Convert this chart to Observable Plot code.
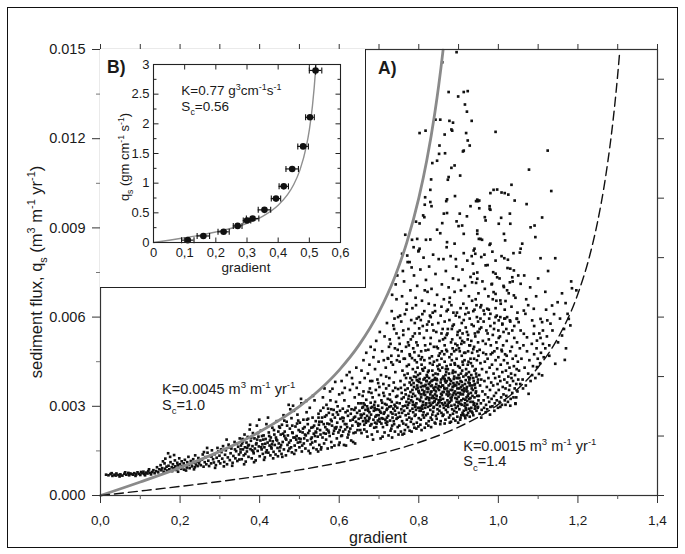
<!DOCTYPE html>
<html><head><meta charset="utf-8">
<script src="https://cdn.jsdelivr.net/npm/d3@7"></script>
<script src="https://cdn.jsdelivr.net/npm/@observablehq/plot@0.6"></script>
<style>
html,body{margin:0;padding:0;background:#fff;}
#wrap{position:relative;width:685px;height:554px;overflow:hidden;font-family:"Liberation Sans",Arial,sans-serif;}
#wrap svg{position:absolute;}
#border{position:absolute;left:7px;top:7px;width:671px;height:541px;border:1.6px solid #111;box-sizing:border-box;}
#insetBox{position:absolute;left:100px;top:49px;width:266px;height:239px;box-sizing:border-box;border-right:1.4px solid #222;border-bottom:1.4px solid #222;}
</style></head><body><div id="wrap"><div id="border"></div></div>
<script>
// ---------- MAIN PANEL (A): gradient vs sediment flux (flux in units of 0.001 m3 m-1 yr-1) ----------
const xMajorTicks = [0, 0.2, 0.4, 0.6, 0.8, 1.0, 1.2, 1.4];
const xMajorLabels = ["0,0", "0,2", "0,4", "0,6", "0,8", "1,0", "1,2", "1,4"];
const xMinorTicks = [0.1, 0.3, 0.5, 0.7, 0.9, 1.1, 1.3];
const xTopTicks = [0, 0.1, 0.2, 0.3, 0.4, 0.5, 0.6, 0.7, 0.8, 0.9, 1.0, 1.1, 1.2, 1.3, 1.4];
const yMajorTicks = [0, 3, 6, 9, 12, 15];
const yMajorLabels = ["0.000", "0.003", "0.006", "0.009", "0.012", "0.015"];
const yMinorTicks = [1.5, 4.5, 7.5, 10.5, 13.5];
const yRightTicks = [0, 2, 4, 6, 8, 10, 12, 14];

// fitted curve K=0.0045, Sc=1.0 (gray)
const grayCurveS = [0, 0.1, 0.2, 0.3, 0.4, 0.5, 0.55, 0.6, 0.65, 0.7, 0.74, 0.77, 0.8, 0.82, 0.84, 0.85, 0.86, 0.861];
const grayCurveQ = [0, 0.455, 0.938, 1.484, 2.143, 3.0, 3.548, 4.219, 5.065, 6.176, 7.361, 8.511, 10.0, 11.264, 12.84, 13.784, 14.86, 14.978];
// fitted curve K=0.0015, Sc=1.4 (dashed)
const dashCurveS = [0, 0.1, 0.2, 0.3, 0.4, 0.5, 0.6, 0.7, 0.8, 0.9, 1.0, 1.05, 1.1, 1.15, 1.2, 1.23, 1.25, 1.27, 1.29, 1.3, 1.305];
const dashCurveQ = [0, 0.151, 0.306, 0.472, 0.653, 0.86, 1.103, 1.4, 1.782, 2.301, 3.063, 3.6, 4.312, 5.303, 6.785, 8.088, 9.245, 10.757, 12.817, 14.155, 14.93];

// measured points [gradient, flux]
const bandLow = [[0.014,0.70],[0.02,0.68],[0.025,0.72],[0.028,0.75],[0.03,0.66],[0.035,0.70],[0.038,0.67],[0.04,0.74],[0.045,0.69],[0.048,0.64],[0.05,0.71],[0.055,0.67],[0.06,0.73],[0.062,0.78],[0.065,0.70],[0.07,0.76],[0.072,0.68],[0.075,0.74],[0.078,0.72],[0.082,0.70],[0.085,0.75],[0.088,0.66],[0.09,0.71],[0.093,0.78],[0.097,0.73],[0.1,0.69],[0.102,0.79],[0.104,0.75],[0.108,0.80],[0.11,0.72],[0.112,0.68],[0.115,0.77],[0.118,0.74],[0.12,0.82],[0.122,0.88],[0.124,0.76],[0.127,0.71],[0.13,0.79],[0.133,0.85],[0.136,0.75],
[0.14,0.82],[0.142,0.95],[0.145,0.78],[0.148,0.88],[0.151,1.02],[0.153,0.85],[0.155,0.92],[0.157,1.15],[0.159,0.80],[0.161,1.08],[0.162,0.90],[0.163,1.24],[0.166,0.97],[0.167,0.84],[0.17,1.42],[0.171,1.0],[0.173,0.88],[0.175,1.30],[0.176,1.12],[0.179,0.95],[0.18,0.82],[0.182,1.05],[0.184,0.92],[0.185,1.36],[0.187,1.18],[0.188,0.98],[0.19,0.86],[0.193,1.10],[0.194,1.02],[0.195,0.80],[0.197,0.93],[0.198,1.25],[0.2,1.05],[0.203,0.90],[0.204,1.15],[0.206,0.98],[0.209,1.08],[0.21,0.87],[0.212,1.20],[0.214,1.00],[0.215,0.84],[0.217,0.94],[0.218,1.12],[0.221,1.30],[0.222,1.03],[0.224,0.92],[0.227,1.16],[0.228,1.07],[0.23,0.98],[0.233,1.22],[0.234,1.10],[0.235,0.88],[0.237,0.95],[0.238,1.35],[0.24,1.04],[0.243,1.14],[0.244,0.99],[0.246,1.26],[0.248,1.08],[0.25,1.18]];

const riseMid = [[0.252,1.02],[0.255,1.21],[0.257,1.38],[0.259,0.97],[0.26,1.46],[0.262,1.12],[0.264,1.29],[0.266,1.05],[0.268,1.60],[0.269,1.44],[0.271,1.17],[0.273,0.99],[0.276,1.33],[0.278,1.08],[0.279,1.31],[0.28,1.52],[0.283,1.22],[0.285,1.11],[0.287,1.39],[0.288,0.93],[0.29,1.02],[0.292,1.27],[0.294,1.60],[0.296,1.48],[0.297,1.15],[0.299,1.34],[0.301,1.08],[0.303,1.55],[0.304,1.46],[0.306,1.24],[0.308,1.66],[0.31,0.98],[0.311,1.13],[0.313,1.37],[0.315,1.52],[0.317,1.88],[0.318,1.05],[0.32,1.28],[0.322,1.71],[0.324,1.62],[0.325,1.19],[0.327,1.42],[0.329,1.58],[0.331,1.00],[0.332,1.10],[0.334,1.33],[0.337,1.80],[0.338,1.55],[0.339,1.25],[0.341,1.49],[0.343,1.74],[0.344,1.16],[0.346,1.64],[0.348,1.38],[0.349,1.21],[0.35,1.92],
[0.352,1.45],[0.353,1.68],[0.355,1.22],[0.356,1.75],[0.357,1.90],[0.358,1.55],[0.36,1.35],[0.361,1.05],[0.362,2.05],[0.363,1.62],[0.365,1.14],[0.367,1.78],[0.368,1.48],[0.369,1.60],[0.37,1.97],[0.372,1.30],[0.373,1.70],[0.375,2.22],[0.376,2.38],[0.377,1.56],[0.378,1.84],[0.38,1.25],[0.381,1.52],[0.382,1.66],[0.383,2.10],[0.385,1.42],[0.386,1.12],[0.387,1.92],[0.388,1.58],[0.39,1.18],[0.392,1.76],[0.393,2.35],[0.394,1.88],[0.395,1.50],[0.397,1.98],[0.398,1.65],[0.399,2.55],[0.4,1.32],[0.402,1.85],[0.403,2.18],[0.405,1.55],[0.406,2.00],[0.407,1.72],[0.408,1.40],[0.41,2.02],[0.411,1.20],[0.412,1.62],[0.413,1.28],[0.414,1.74],[0.415,1.90],[0.417,2.40],[0.418,1.52],[0.42,1.78],[0.421,2.62],[0.422,1.44],[0.423,2.12],[0.425,1.68],[0.426,1.85],[0.427,1.35],[0.428,1.95],[0.429,1.62],[0.43,1.58],[0.432,2.28],[0.433,1.82],[0.434,1.25],[0.435,1.47],[0.437,2.05],[0.438,1.70],[0.44,1.38],[0.441,1.95],[0.442,1.88],[0.443,2.50],[0.445,1.60],[0.446,1.32],[0.447,2.15],[0.448,1.75],[0.449,2.32],[0.45,1.50],
[0.452,1.62],[0.453,2.05],[0.455,1.40],[0.456,2.38],[0.457,1.30],[0.458,1.80],[0.459,2.08],[0.46,2.70],[0.461,1.55],[0.462,2.52],[0.463,2.15],[0.465,1.92],[0.466,1.35],[0.467,1.88],[0.468,2.48],[0.47,1.70],[0.471,2.02],[0.472,1.50],[0.473,3.05],[0.475,1.58],[0.476,2.25],[0.477,2.90],[0.478,1.85],[0.479,1.62],[0.48,2.60],[0.481,1.45],[0.482,2.35],[0.483,2.10],[0.484,3.02],[0.485,1.95],[0.486,2.85],[0.487,1.40],[0.488,1.68],[0.49,2.32],[0.491,1.52],[0.492,1.88],[0.493,2.00],[0.495,2.72],[0.496,1.78],[0.497,2.52],[0.498,2.20],[0.499,1.92],[0.5,1.62],[0.501,2.45],[0.502,2.15],[0.503,1.90],[0.504,3.25],[0.505,3.10],[0.506,1.48],[0.507,1.68],[0.508,2.12],[0.51,2.55],[0.511,1.75],[0.512,1.92],[0.513,2.30],[0.515,1.58],[0.516,2.02],[0.517,3.18],[0.518,2.80],[0.519,2.55],[0.52,1.85],[0.521,2.40],[0.522,2.10],[0.523,1.50],[0.525,2.18],[0.526,2.95],[0.527,1.42],[0.528,1.72],[0.53,2.28],[0.531,1.95],[0.532,1.78],[0.533,2.62],[0.534,3.35],[0.535,1.60],[0.536,2.08],[0.537,2.35],[0.538,3.20],[0.539,2.00],[0.54,1.82],[0.541,2.50],[0.542,2.12],[0.543,1.55],[0.545,2.25],[0.546,1.98],[0.547,1.48],[0.548,2.75],[0.549,2.38],[0.55,1.70]];

const lowerRise = [[0.352,1.55],[0.358,1.82],[0.364,1.40],[0.371,1.68],[0.379,1.95],[0.384,1.48],[0.391,1.72],[0.396,2.10],[0.404,1.62],[0.409,1.88],[0.416,1.45],[0.424,2.00],[0.431,1.72],[0.436,2.20],[0.444,1.85],[0.451,2.28],[0.454,1.70],[0.462,2.00],[0.469,2.35],[0.474,1.78],[0.482,2.12],[0.489,1.95],[0.494,2.42],[0.502,1.80],[0.509,2.25],[0.514,2.05],[0.522,2.58],[0.529,1.90],[0.534,2.30],[0.541,2.15],[0.548,2.62],[0.553,2.05],[0.561,2.40],[0.568,2.70],[0.574,2.12],[0.581,2.50],[0.589,2.28],[0.594,2.80],[0.601,2.20],[0.608,2.62],[0.614,2.40],[0.621,2.85],[0.628,2.25],[0.634,2.55],[0.641,2.95],[0.648,2.35],[0.654,2.72],[0.661,3.10],[0.667,2.52],[0.673,2.85],[0.681,2.40],[0.688,3.05],[0.694,2.70],[0.701,2.58],[0.708,3.12],[0.714,2.80],[0.721,2.48],[0.728,3.22],[0.734,2.75],[0.741,3.00],[0.747,2.62],[0.663,2.38],[0.676,2.62],[0.691,2.88],[0.706,2.42],[0.719,3.05],[0.733,2.35],[0.746,3.35]];

const riseUpper = [[0.55,2.48],[0.552,2.20],[0.553,2.85],[0.554,1.55],[0.555,1.62],[0.556,2.48],[0.557,2.62],[0.558,1.95],[0.559,3.30],[0.56,2.95],[0.561,2.10],[0.562,1.75],[0.563,3.60],[0.564,2.65],[0.565,2.30],[0.566,2.08],[0.567,1.88],[0.568,3.05],[0.569,2.22],[0.57,2.42],[0.571,1.58],[0.572,2.92],[0.573,2.18],[0.574,2.78],[0.575,2.40],[0.576,2.00],[0.577,3.50],[0.578,3.20],[0.579,2.55],[0.58,1.80],[0.58,2.90],[0.581,1.62],[0.582,2.35],[0.583,3.59],[0.584,2.72],[0.585,2.08],[0.586,2.88],[0.587,2.18],[0.588,1.68],[0.589,2.62],[0.59,3.82],[0.591,2.25],[0.592,3.15],[0.593,2.30],[0.594,1.92],[0.595,2.45],[0.596,3.00],[0.597,2.72],[0.598,2.12],[0.599,1.70],[0.6,3.40],[0.601,1.78],[0.602,2.85],[0.603,2.58],[0.604,2.30],[0.605,2.00],[0.606,3.85],[0.607,2.02],[0.608,3.45],[0.609,2.92],[0.61,2.50],[0.61,2.15],[0.611,2.60],[0.612,1.70],[0.613,3.20],[0.614,3.62],[0.615,2.22],[0.616,2.80],[0.617,1.68],[0.618,2.40],[0.619,4.05],[0.62,2.30],[0.621,1.95],[0.622,2.68],[0.623,2.05],[0.624,3.00],[0.625,2.15],[0.626,4.15],[0.627,3.55],[0.628,2.52],[0.629,2.75],[0.63,1.85],[0.631,2.90],[0.632,3.95],[0.633,2.35],[0.634,3.75],[0.635,1.80],[0.636,2.10],[0.637,2.62],[0.638,2.88],[0.639,3.30],[0.64,1.75],[0.64,2.65],[0.641,2.12],[0.642,2.48],[0.643,4.30],[0.644,3.62],[0.645,2.78],[0.646,2.20],[0.647,2.42],[0.648,3.10],[0.649,2.58],[0.65,3.40],
[0.651,2.85],[0.652,2.40],[0.653,2.20],[0.654,3.10],[0.655,2.62],[0.656,2.10],[0.657,2.70],[0.658,2.95],[0.659,3.35],[0.66,2.50],[0.66,2.98],[0.661,3.50],[0.662,2.75],[0.663,2.22],[0.664,3.05],[0.665,2.60],[0.666,2.88],[0.667,2.45],[0.668,3.22],[0.669,2.15],[0.67,2.68],[0.67,3.00],[0.671,1.98],[0.672,2.92],[0.673,2.50],[0.674,3.48],[0.675,2.58],[0.676,2.80],[0.677,3.60],[0.678,2.35],[0.679,3.12],[0.68,2.72],[0.68,2.95],[0.681,3.45],[0.682,2.05],[0.683,2.98],[0.684,3.30],[0.685,1.88],[0.686,2.55],[0.687,2.85],[0.688,2.28],[0.689,2.95],[0.69,3.15],[0.69,2.45],[0.691,2.65],[0.692,3.55],[0.693,2.30],[0.694,2.42],[0.695,2.90],[0.696,2.15],[0.697,2.52],[0.698,3.02],[0.699,2.70],[0.7,3.38],[0.70,2.88],[0.701,3.65],[0.702,2.48],[0.703,2.82],[0.704,1.92],[0.705,2.78],[0.706,3.20],[0.707,2.60],[0.708,2.95],[0.709,1.98],[0.71,2.30],[0.71,2.58],[0.711,3.45],[0.712,2.75],[0.713,3.35],[0.714,2.12],[0.715,3.08],[0.716,2.55],[0.717,2.45],[0.718,3.60],[0.719,2.88],[0.72,2.38],[0.72,2.62],[0.721,2.92],[0.722,3.25],[0.723,2.68],[0.724,2.02],[0.725,3.70],[0.726,2.98],[0.727,3.40],[0.728,2.52],[0.729,2.18],[0.73,2.80],[0.73,3.00],[0.731,2.25],[0.732,3.15],[0.733,1.95],[0.734,2.62],[0.735,3.52],[0.736,2.92],[0.737,2.50],[0.738,2.40],[0.739,3.05],[0.74,2.15],[0.74,2.85],[0.741,3.62],[0.742,2.72],[0.743,3.32],[0.744,2.58],[0.745,3.12],[0.746,2.95],[0.747,2.30],[0.748,3.58],[0.749,2.05],[0.75,2.78],
[0.652,3.80],[0.656,4.20],[0.661,4.55],[0.664,3.95],[0.668,4.80],[0.672,4.10],[0.676,4.40],[0.678,3.85],[0.679,5.00],[0.683,3.85],[0.686,4.65],[0.689,4.90],[0.69,4.25],[0.693,5.20],[0.696,3.90],[0.698,3.78],[0.699,4.50],[0.702,5.50],[0.705,4.05],[0.708,4.85],[0.711,3.75],[0.712,4.55],[0.714,5.35],[0.717,4.30],[0.718,4.00],[0.72,5.80],[0.723,4.60],[0.725,5.00],[0.726,3.95],[0.729,5.10],[0.731,4.70],[0.732,6.20],[0.733,6.75],[0.735,4.40],[0.737,3.80],[0.738,5.60],[0.739,5.95],[0.741,4.15],[0.742,7.10],[0.744,6.60],[0.745,4.55],[0.746,7.40],[0.747,4.90],[0.748,6.00],[0.75,5.30]];

const coreLeft = [[0.751,2.35],[0.752,3.10],[0.753,2.65],[0.754,3.85],[0.755,2.15],[0.755,3.62],[0.756,2.90],[0.757,3.45],[0.757,3.25],[0.758,2.50],[0.758,2.78],[0.759,4.20],[0.759,2.05],[0.76,3.00],[0.752,4.50],
[0.761,2.42],[0.762,3.30],[0.762,4.60],[0.763,2.85],[0.763,2.08],[0.764,4.05],[0.764,3.72],[0.765,2.20],[0.766,3.55],[0.766,3.02],[0.767,2.70],[0.767,3.40],[0.768,3.95],[0.768,2.38],[0.769,3.15],[0.77,2.55],[0.77,4.35],
[0.771,2.95],[0.772,3.60],[0.772,4.10],[0.773,2.30],[0.773,3.05],[0.774,3.25],[0.774,2.75],[0.775,4.40],[0.775,3.35],[0.776,2.62],[0.776,3.12],[0.777,3.80],[0.777,2.18],[0.778,2.85],[0.778,4.70],[0.779,3.48],[0.779,3.95],[0.78,2.48],
[0.781,3.20],[0.781,3.72],[0.782,2.58],[0.782,2.15],[0.783,3.88],[0.783,4.62],[0.784,2.92],[0.784,3.55],[0.785,4.25],[0.785,3.15],[0.786,3.42],[0.786,2.80],[0.787,2.40],[0.788,3.65],[0.788,4.00],[0.789,3.05],[0.789,2.28],[0.79,4.55],[0.79,2.68],
[0.791,3.35],[0.791,3.02],[0.792,2.72],[0.792,4.15],[0.793,3.98],[0.793,2.88],[0.794,3.10],[0.794,2.25],[0.795,2.45],[0.795,4.48],[0.796,3.70],[0.796,3.25],[0.797,4.30],[0.797,3.62],[0.798,2.95],[0.798,3.85],[0.799,3.50],[0.799,2.32],[0.8,2.60],[0.8,4.70],
[0.801,3.45],[0.801,3.82],[0.802,2.85],[0.802,3.92],[0.803,4.10],[0.803,2.95],[0.804,3.18],[0.804,2.38],[0.805,2.55],[0.805,3.40],[0.806,3.78],[0.806,3.30],[0.807,4.40],[0.807,2.20],[0.808,3.00],[0.808,4.65],[0.809,3.55],[0.809,4.25],[0.81,2.70],[0.81,3.68],
[0.811,3.15],[0.811,4.20],[0.812,3.90],[0.812,2.80],[0.813,2.62],[0.813,3.45],[0.814,3.50],[0.814,4.55],[0.815,4.30],[0.815,2.28],[0.816,2.95],[0.816,3.38],[0.817,3.72],[0.817,3.05],[0.818,3.25],[0.818,2.70],[0.819,2.42],[0.819,3.85],[0.82,4.05],[0.82,3.60],
[0.821,3.30],[0.821,4.00],[0.822,2.75],[0.822,3.48],[0.823,4.15],[0.823,2.98],[0.824,3.58],[0.824,2.35],[0.825,2.50],[0.825,3.75],[0.826,3.95],[0.826,3.22],[0.827,3.12],[0.827,4.62],[0.828,4.45],[0.828,3.80],[0.829,2.88],[0.829,3.40],[0.83,3.68],[0.83,2.62],
[0.831,3.05],[0.831,2.30],[0.832,3.85],[0.832,3.50],[0.833,2.55],[0.833,3.70],[0.834,4.20],[0.834,2.72],[0.835,3.35],[0.835,4.40],[0.836,2.82],[0.836,4.05],[0.837,3.62],[0.837,2.95],[0.838,4.50],[0.838,3.28],[0.839,3.15],[0.839,3.55],[0.84,2.45],[0.84,3.90],
[0.841,3.40],[0.841,3.95],[0.842,4.10],[0.842,2.42],[0.843,2.68],[0.843,3.50],[0.844,3.75],[0.844,3.25],[0.845,3.05],[0.845,2.58],[0.846,4.55],[0.846,3.88],[0.847,2.90],[0.847,4.35],[0.848,3.60],[0.848,2.75],[0.849,4.25],[0.849,3.10],[0.85,3.20],[0.85,4.70],
[0.752,5.10],[0.756,5.85],[0.758,6.70],[0.76,7.55],[0.761,5.40],[0.763,7.20],[0.765,6.10],[0.768,5.00],[0.77,6.45],[0.772,7.85],[0.774,5.60],[0.775,5.05],[0.777,7.85],[0.779,6.90],[0.78,5.25],[0.782,7.67],[0.784,6.30],[0.786,4.95],[0.788,7.40],[0.79,5.80],[0.792,6.65],[0.794,5.15],[0.795,5.95],[0.796,7.05],[0.799,8.21],[0.8,6.00],[0.802,5.45],[0.804,7.60],[0.805,5.90],[0.806,4.85],[0.808,6.55],[0.81,5.70],[0.812,8.00],[0.814,6.20],[0.815,6.90],[0.816,5.05],[0.818,7.25],[0.82,5.55],[0.822,6.85],[0.824,4.90],[0.825,5.85],[0.826,7.70],[0.828,6.05],[0.83,5.30],[0.832,6.95],[0.834,5.75],[0.835,6.15],[0.836,8.10],[0.838,5.00],[0.84,6.40],[0.842,7.45],[0.844,5.50],[0.846,6.75],[0.848,4.95],[0.85,7.95]];

const coreRight = [[0.851,3.55],[0.852,2.85],[0.852,4.40],[0.853,4.20],[0.853,3.00],[0.854,3.30],[0.854,2.40],[0.855,2.50],[0.855,3.65],[0.856,3.90],[0.856,3.42],[0.857,4.60],[0.857,2.78],[0.858,3.10],[0.858,4.85],[0.859,3.70],[0.859,4.30],[0.86,2.68],[0.86,3.95],
[0.861,3.25],[0.861,3.70],[0.862,4.00],[0.862,2.72],[0.863,2.95],[0.863,3.48],[0.864,3.62],[0.864,4.75],[0.865,4.50],[0.865,2.42],[0.866,3.12],[0.866,3.85],[0.867,2.55],[0.867,4.05],[0.868,3.80],[0.868,2.88],[0.869,4.15],[0.869,3.02],[0.87,3.40],[0.87,4.35],
[0.871,3.60],[0.871,4.85],[0.872,2.80],[0.872,3.50],[0.873,4.25],[0.873,3.05],[0.874,3.35],[0.874,2.98],[0.875,3.95],[0.875,3.70],[0.876,2.62],[0.876,4.10],[0.877,4.65],[0.877,3.40],[0.878,3.15],[0.878,2.45],[0.879,3.75],[0.879,2.70],[0.88,4.40],[0.88,3.28],
[0.881,3.85],[0.881,2.48],[0.882,3.20],[0.882,4.75],[0.883,4.55],[0.883,3.30],[0.884,2.90],[0.884,3.55],[0.885,3.65],[0.885,4.95],[0.886,4.20],[0.886,2.75],[0.887,2.58],[0.887,3.78],[0.888,3.45],[0.888,3.92],[0.889,4.00],[0.889,2.85],[0.89,3.05],[0.89,4.45],
[0.891,3.50],[0.891,4.40],[0.892,4.15],[0.892,2.52],[0.893,2.95],[0.893,3.40],[0.894,3.70],[0.894,4.90],[0.895,4.60],[0.895,2.80],[0.896,3.25],[0.896,3.80],[0.897,2.65],[0.897,3.60],[0.898,3.95],[0.898,3.00],[0.899,4.35],[0.899,2.45],[0.9,3.10],[0.9,4.05],
[0.901,3.75],[0.901,3.15],[0.902,2.90],[0.902,3.95],[0.903,4.30],[0.903,4.85],[0.904,3.45],[0.904,2.55],[0.905,2.62],[0.905,3.85],[0.906,4.10],[0.906,3.65],[0.907,3.20],[0.907,2.70],[0.908,4.70],[0.908,3.05],[0.909,3.55],[0.909,4.20],[0.91,2.78],[0.91,4.50],
[0.911,3.40],[0.911,4.40],[0.912,4.00],[0.912,2.72],[0.913,2.85],[0.913,3.50],[0.914,3.60],[0.914,4.80],[0.915,4.55],[0.915,2.68],[0.916,3.10],[0.916,3.75],[0.917,2.60],[0.917,3.22],[0.918,3.88],[0.918,2.95],[0.919,4.25],[0.919,2.88],[0.92,3.30],[0.92,4.10],
[0.921,3.65],[0.921,2.70],[0.922,3.05],[0.922,3.50],[0.923,4.40],[0.923,3.35],[0.924,2.78],[0.924,4.85],[0.925,3.80],[0.925,4.50],[0.926,4.15],[0.926,2.92],[0.927,3.25],[0.927,3.90],[0.928,2.65],[0.928,3.70],[0.929,3.95],[0.929,2.85],[0.93,4.60],[0.93,3.15],
[0.931,3.45],[0.931,4.45],[0.932,4.05],[0.932,2.95],[0.933,2.82],[0.933,3.60],[0.934,3.70],[0.934,4.80],[0.935,4.35],[0.935,2.78],[0.936,3.15],[0.936,3.55],[0.937,2.70],[0.937,3.95],[0.938,3.85],[0.938,3.05],[0.939,4.60],[0.939,3.10],[0.94,3.30],[0.94,4.20],
[0.941,3.75],[0.941,2.92],[0.942,3.00],[0.942,3.62],[0.943,4.25],[0.943,3.45],[0.944,3.50],[0.944,4.10],[0.945,2.85],[0.945,4.00],[0.946,4.55],[0.946,3.08],[0.947,3.35],[0.947,4.85],[0.948,2.95],[0.948,3.80],[0.949,3.90],[0.949,2.98],[0.95,4.70],[0.95,3.20],
[0.852,5.20],[0.855,6.05],[0.857,5.45],[0.858,7.10],[0.86,5.60],[0.862,7.95],[0.863,6.60],[0.865,5.05],[0.866,5.30],[0.868,7.55],[0.87,6.20],[0.872,5.45],[0.873,6.25],[0.875,7.00],[0.877,5.90],[0.878,6.65],[0.88,8.05],[0.882,6.40],[0.883,5.60],[0.884,5.25],[0.886,7.30],[0.887,6.15],[0.888,5.75],[0.89,6.85],[0.892,5.10],[0.893,7.95],[0.894,7.70],[0.896,6.15],[0.897,5.05],[0.898,5.50],[0.9,7.25],[0.902,6.00],[0.903,5.55],[0.904,5.30],[0.906,6.90],[0.907,5.10],[0.908,5.80],[0.91,7.60],[0.912,6.45],[0.913,8.15],[0.914,5.15],[0.916,7.05],[0.917,6.10],[0.918,5.65],[0.92,6.30],[0.922,7.90],[0.923,5.25],[0.924,5.40],[0.926,6.70],[0.927,5.05],[0.928,5.95],[0.93,7.35],[0.932,5.20],[0.933,8.05],[0.934,6.55],[0.936,7.80],[0.937,6.20],[0.938,5.70],[0.939,5.00],[0.94,6.25],[0.942,5.35],[0.943,6.60],[0.944,7.15],[0.946,6.00],[0.947,7.50],[0.948,5.50],[0.949,5.85],[0.95,6.80]];

const coreExtra = [[0.783,3.32],[0.787,3.78],[0.791,2.98],[0.794,3.58],[0.798,4.05],[0.802,3.22],[0.805,3.65],[0.809,2.92],[0.812,3.40],[0.815,3.95],[0.819,3.10],[0.822,3.62],[0.825,4.20],[0.828,3.02],[0.832,3.28],[0.835,3.88],[0.838,2.98],[0.842,3.65],[0.845,3.35],[0.848,4.08],[0.852,3.15],[0.855,3.80],[0.858,3.38],[0.862,3.05],[0.865,3.58],[0.868,4.25],[0.872,3.20],[0.875,3.48],[0.878,3.90],[0.882,3.02],[0.885,3.38],[0.888,3.68],[0.892,3.28],[0.895,3.95],[0.898,3.45],[0.902,3.60],[0.905,3.08],[0.908,3.82],[0.912,3.25],[0.915,3.52],[0.918,4.05],[0.922,3.18],[0.925,3.42],[0.928,3.78],[0.785,3.05],[0.795,3.88],[0.805,2.85],[0.815,3.68],[0.825,3.28],[0.835,3.12],[0.845,3.92],[0.855,3.22],[0.865,3.92],[0.875,3.12],[0.885,4.12],[0.895,3.15],[0.905,3.40],[0.915,3.02],[0.925,3.98],[0.935,3.35],[0.80,3.52],[0.81,3.05],[0.82,3.85],[0.83,3.48],[0.84,3.18],[0.85,3.68],[0.86,3.48],[0.87,3.85],[0.88,3.55],[0.89,3.72],[0.90,3.32],[0.91,3.70],[0.92,3.58],[0.93,3.28],[0.94,3.72]];

const midBelt = [[0.722,4.62],[0.727,5.25],[0.731,4.48],[0.736,5.72],[0.74,4.95],[0.744,5.45],[0.749,4.70],[0.753,6.05],[0.757,4.85],[0.761,5.55],[0.765,4.60],[0.769,6.25],[0.773,5.15],[0.777,4.75],[0.781,5.90],[0.785,5.35],[0.789,4.82],[0.793,6.40],[0.797,5.05],[0.801,5.62],[0.805,4.58],[0.809,6.10],[0.813,5.30],[0.817,4.88],[0.821,5.75],[0.825,6.45],[0.829,5.10],[0.833,4.68],[0.837,5.55],[0.841,6.20],[0.845,5.00],[0.849,5.80],[0.853,4.78],[0.857,6.35],[0.861,5.25],[0.865,5.85],[0.869,4.90],[0.873,5.60],[0.877,6.50],[0.881,5.15],[0.885,5.70],[0.889,4.85],[0.893,6.05],[0.897,5.40],[0.901,4.95],[0.905,6.30],[0.909,5.20],[0.913,5.90],[0.917,4.80],[0.921,5.50],[0.925,6.15],[0.929,5.05],[0.933,5.75],[0.937,4.92],[0.941,5.45],[0.945,6.40],[0.949,5.15],[0.953,4.90],[0.957,5.65],[0.961,5.20],[0.965,6.10],[0.969,4.75],[0.973,5.45],[0.977,5.95],[0.981,5.05],[0.985,4.80],[0.989,5.60],[0.993,6.30],[0.997,4.95],[1.001,5.30],[1.005,6.00],[1.009,4.85],[1.013,5.50],[1.017,5.95],[1.021,4.70],[0.79,5.45],[0.83,6.00],[0.87,5.40],[0.91,5.45],[0.95,5.50]];

const shoulder = [[0.951,3.35],[0.952,4.05],[0.953,2.75],[0.954,3.70],[0.955,4.45],[0.956,3.10],[0.957,3.90],[0.957,2.62],[0.958,2.88],[0.959,4.25],[0.96,3.50],[0.962,4.80],[0.963,3.20],[0.964,2.95],[0.965,3.85],[0.966,4.50],[0.967,3.40],[0.968,5.10],[0.968,2.80],[0.969,3.05],[0.97,4.15],[0.971,3.65],[0.972,2.90],[0.973,4.60],[0.974,3.30],[0.975,3.95],[0.976,5.25],[0.977,3.15],[0.978,4.30],[0.979,3.55],[0.979,2.72],[0.98,2.98],[0.981,4.75],[0.982,3.80],[0.983,3.25],[0.984,4.40],[0.985,3.00],[0.986,5.40],[0.987,3.70],[0.988,4.10],[0.989,3.35],[0.99,4.85],[0.99,2.85],[0.991,3.10],[0.992,3.95],[0.993,4.55],[0.994,3.45],[0.995,5.15],[0.996,3.20],[0.997,4.25],[0.998,3.75],[0.999,2.95],[1.0,4.65],[1.001,3.55],[1.002,4.00],[1.003,3.15],[1.004,5.35],[1.005,3.85],[1.005,2.98],[1.006,4.40],[1.007,3.30],[1.008,4.90],[1.009,3.05],[1.01,4.15],[1.011,3.65],[1.012,5.05],[1.013,3.40],[1.014,4.55],[1.015,3.90],[1.016,3.20],[1.017,4.75],[1.018,3.60],[1.018,3.05],[1.019,4.20],[1.02,3.35],[1.021,5.20],[1.022,3.80],[1.023,4.45],[1.024,3.15],[1.025,4.00],[1.026,5.45],[1.027,3.55],[1.028,4.30],[1.029,3.70],[1.03,4.85],[1.03,3.02],[1.031,3.25],[1.032,4.10],[1.033,3.95],[1.034,5.00],[1.035,3.45],[1.036,4.60],[1.037,3.85],[1.038,3.30],[1.039,4.35],[1.04,5.30],[1.041,3.60],[1.042,4.05],[1.043,3.10],[1.043,3.08],[1.044,4.70],[1.045,3.75],[1.045,3.30],[1.046,4.25],[1.047,5.15],[1.048,3.50],[1.049,4.50],[1.05,3.90],
[0.953,5.60],[0.955,5.95],[0.957,6.40],[0.96,7.20],[0.963,5.85],[0.965,8.10],[0.966,6.95],[0.97,5.55],[0.973,7.75],[0.975,6.70],[0.976,6.25],[0.98,5.70],[0.983,7.10],[0.985,8.20],[0.986,6.60],[0.99,5.80],[0.993,7.90],[0.995,6.55],[0.996,6.05],[1.0,5.55],[1.003,7.30],[1.006,6.45],[1.008,8.05],[1.01,5.75],[1.013,7.05],[1.015,5.95],[1.016,6.25],[1.02,5.60],[1.023,7.65],[1.026,6.80],[1.03,5.85],[1.033,6.35],[1.035,5.55],[1.036,7.20],[1.038,8.15],[1.04,5.70],[1.043,6.65],[1.046,5.95],[1.048,6.15],[1.05,7.40]];

const tail = [[1.051,5.83],[1.052,4.20],[1.054,4.95],[1.054,8.17],[1.055,3.75],[1.056,8.30],[1.056,7.12],[1.056,5.55],[1.058,4.60],[1.06,8.47],[1.061,3.90],[1.062,3.60],[1.063,5.05],[1.064,6.22],[1.064,5.44],[1.065,7.40],[1.066,4.30],[1.068,6.11],[1.069,3.70],[1.07,6.60],[1.071,9.80],[1.072,5.32],[1.072,4.85],[1.075,4.10],[1.075,6.40],[1.076,3.42],[1.077,10.96],[1.078,4.55],[1.08,7.00],[1.081,9.02],[1.081,3.85],[1.084,5.10],[1.085,5.89],[1.085,4.05],[1.087,4.35],[1.089,6.28],[1.089,5.44],[1.09,4.75],[1.09,5.70],[1.091,9.08],[1.093,8.69],[1.093,3.95],[1.095,6.70],[1.096,4.95],[1.097,5.21],[1.097,4.32],[1.099,4.60],[1.1,7.30],[1.102,4.09],[1.103,5.45],[1.105,4.45],[1.106,7.98],[1.106,5.94],[1.106,5.30],[1.107,4.80],[1.11,5.83],[1.11,4.04],[1.11,9.35],[1.112,5.55],[1.112,5.10],[1.114,4.65],[1.118,4.95],[1.118,6.85],[1.12,6.25],[1.122,5.35],[1.123,5.89],[1.124,11.60],[1.125,7.55],[1.128,5.05],[1.128,4.70],[1.131,5.78],[1.133,10.24],[1.135,6.39],[1.136,5.55],[1.14,6.10],[1.143,7.98],[1.143,4.43],[1.149,6.50],[1.15,5.15],[1.155,5.95],[1.16,5.38],[1.16,6.80],[1.165,5.60],[1.167,4.56],[1.169,6.47],[1.17,4.95],[1.174,6.11],[1.177,5.94],[1.181,5.72],[1.183,7.20],[1.185,6.97],[1.196,6.90]];

const sparseTop = [[0.895,14.91],[0.859,14.57],[0.875,13.57],[0.899,13.42],[0.913,13.57],[0.923,13.60],[0.916,13.15],[0.921,12.91],[0.933,12.60],[0.842,12.64],[0.854,12.64],[0.877,12.60],[0.886,12.54],[0.882,12.31],[0.884,12.27],[0.817,12.27],[0.802,12.19],[0.865,12.14],[0.919,12.19],[0.993,12.23],[0.923,11.94],[0.928,11.77],[0.913,11.60],[0.911,11.57],[0.852,11.77],[0.851,11.49],[0.866,11.51],[0.846,11.26],[0.834,11.18],[0.890,11.10],[0.882,11.02],[0.875,10.71],[0.873,10.62],[0.904,10.76],[0.831,10.63],[0.829,10.28],[0.891,10.07],[0.871,9.96],[0.869,9.90],[0.816,10.03],[0.815,9.78],[0.829,9.87],[0.832,9.73],[0.811,9.42],[0.814,9.36],[0.802,9.15],[0.793,9.21],[0.863,9.48],[0.871,9.50],[0.846,8.94],[0.854,8.82],[0.859,9.16],[0.903,9.48],[0.921,9.39],[0.944,9.90],[0.949,9.90],[0.930,9.73],[0.952,9.66],[0.978,9.73],[0.980,9.61],[0.988,10.28],[0.997,10.29],[0.980,10.17],[0.895,9.22],[0.909,9.08],[0.900,9.06],[0.913,8.80],[0.947,8.91],[0.947,8.80],[0.955,8.63],[0.959,8.60],[0.980,8.47],[1.001,9.14],[0.766,8.77],[0.783,8.60],[0.796,8.63],[0.818,8.60],[0.829,8.61],[0.802,8.30],[0.871,8.52],[0.870,8.35],[0.890,8.47],[0.940,8.30],[0.978,8.43],[0.758,8.13],[0.771,8.07],[0.787,8.35],[0.800,8.24],
[1.016,10.17],[1.041,9.92],[0.978,9.64],[1.029,9.48],[1.030,9.14],[1.007,9.34],[0.966,9.36],[0.968,9.25],[0.951,8.63],[1.014,8.80],[1.017,8.58],[0.938,8.24],[0.942,8.13],[0.957,8.02],[0.968,7.74],[1.015,7.98],[1.024,7.93],[0.987,7.51],[0.993,7.46],[0.997,7.34],[1.030,7.63],[1.039,7.57],[1.035,7.34],[1.029,7.17],[0.938,7.46],[0.947,7.29],[0.934,7.17],[0.984,7.12],[0.988,6.84],[0.993,6.78],[1.014,7.01],[1.022,6.90],[1.039,6.73],[1.005,6.56],[1.018,6.54],[0.955,6.33],[0.963,6.22],[0.972,6.28],[0.980,6.11],[0.993,6.00],[1.001,5.89],[1.010,5.78],[1.022,6.00],[1.029,5.89],[1.047,5.94],[1.033,10.45],[0.947,9.95],[0.952,9.92],[1.025,10.12],[1.008,10.19]];

// ---------- INSET PANEL (B) ----------
const insetXTicks = [0, 0.1, 0.2, 0.3, 0.4, 0.5, 0.6];
const insetXLabels = ["0", "0,1", "0,2", "0,3", "0,4", "0,5", "0,6"];
const insetYTicks = [0, 0.5, 1, 1.5, 2, 2.5, 3];
const insetYLabels = ["0", "0.5", "1", "1.5", "2", "2.5", "3"];
const insetYMinor = [0.25, 0.75, 1.25, 1.75, 2.25, 2.75];
const insetGradient = [0.11, 0.16, 0.225, 0.27, 0.30, 0.318, 0.356, 0.393, 0.418, 0.445, 0.48, 0.502, 0.52];
const insetFlux = [0.04, 0.11, 0.18, 0.28, 0.37, 0.405, 0.55, 0.74, 0.946, 1.24, 1.62, 2.11, 2.90];
const insetErrX = [0.02, 0.02, 0.018, 0.014, 0.012, 0.02, 0.02, 0.015, 0.015, 0.02, 0.017, 0.014, 0.02];
const insetErrY = [0, 0, 0, 0, 0, 0, 0, 0, 0, 0, 0, 0, 0.08];
const insetCurveS = [0, 0.05, 0.1, 0.15, 0.2, 0.25, 0.3, 0.35, 0.4, 0.43, 0.45, 0.47, 0.49, 0.5, 0.51, 0.52, 0.521];
const insetCurveQ = [0, 0.039, 0.080, 0.124, 0.177, 0.240, 0.324, 0.442, 0.629, 0.807, 0.978, 1.224, 1.610, 1.899, 2.302, 2.906, 2.984];

// ---------- rendering ----------
const FONT = '"Liberation Sans", Arial, Helvetica, sans-serif';
const INK = "#1a1a1a";
const points = [...bandLow, ...riseMid, ...lowerRise, ...riseUpper, ...coreLeft, ...coreRight, ...coreExtra, ...midBelt, ...shoulder, ...tail, ...sparseTop]
  .map(([s, q]) => ({s, q}));
const grayCurve = grayCurveS.map((s, i) => ({s, q: grayCurveQ[i]}));
const dashCurve = dashCurveS.map((s, i) => ({s, q: dashCurveQ[i]}));
const xLab = new Map(xMajorTicks.map((t, i) => [t, xMajorLabels[i]]));
const yLab = new Map(yMajorTicks.map((t, i) => [t, yMajorLabels[i]]));
const blank = () => "";

const main = Plot.plot({
  width: 685, height: 554,
  marginLeft: 100, marginRight: 28, marginTop: 49, marginBottom: 59,
  x: {domain: [0, 1.4]},
  y: {domain: [0, 15]},
  style: {fontFamily: FONT, color: INK, background: "transparent", overflow: "visible"},
  marks: [
    Plot.dot(points, {x: "s", y: "q", r: 1.5, symbol: "square", fill: "#111", stroke: null}),
    Plot.line(grayCurve, {x: "s", y: "q", stroke: "#8a8a8a", strokeWidth: 2.8, curve: "monotone-x"}),
    Plot.line(dashCurve, {x: "s", y: "q", stroke: "#111", strokeWidth: 1.4, strokeDasharray: "9,5", curve: "monotone-x"}),
    Plot.frame({stroke: "#333", strokeWidth: 1.2}),
    Plot.axisY({ticks: yMajorTicks, tickSize: 8, tickPadding: 7, tickFormat: d => yLab.get(d), label: null, fontSize: 14.5, stroke: "#333"}),
    Plot.axisY({ticks: yMinorTicks, tickSize: 4, tickFormat: blank, label: null, stroke: "#777"}),
    Plot.axisY({anchor: "right", ticks: yRightTicks, tickSize: 6, tickFormat: blank, label: null, stroke: "#333"}),
    Plot.axisX({ticks: xMajorTicks, tickSize: 8, tickPadding: 12, tickFormat: d => xLab.get(d), label: null, fontSize: 13.5, stroke: "#333"}),
    Plot.axisX({ticks: xMinorTicks, tickSize: 4, tickFormat: blank, label: null, stroke: "#555"}),
    Plot.axisX({anchor: "top", ticks: xTopTicks, tickSize: 6, tickFormat: blank, label: null, stroke: "#333"})
  ]
});
main.style.left = "0px"; main.style.top = "0px";
document.getElementById("wrap").appendChild(main);

// inset
const tick = (dx, dy) => ({draw(c) { c.moveTo(0, 0); c.lineTo(dx, dy); }});
const vcap = {draw(c) { c.moveTo(0, -3); c.lineTo(0, 3); }};
const insetRows = insetGradient.map((g, i) => ({g, q: insetFlux[i], ex: insetErrX[i], ey: insetErrY[i]}));
const insetCurve = insetCurveS.map((s, i) => ({s, q: insetCurveQ[i]}));
const ixLab = new Map(insetXTicks.map((t, i) => [t, insetXLabels[i]]));
const iyLab = new Map(insetYTicks.map((t, i) => [t, insetYLabels[i]]));
const TS = {stroke: "#222", fill: "none", strokeWidth: 1};

const inset = Plot.plot({
  width: 266, height: 239,
  marginLeft: 53, marginRight: 26, marginTop: 15, marginBottom: 46,
  x: {domain: [0, 0.6]},
  y: {domain: [0, 3]},
  style: {fontFamily: FONT, color: INK, background: "#fff", overflow: "visible"},
  marks: [
    Plot.line(insetCurve, {x: "s", y: "q", stroke: "#8f8f8f", strokeWidth: 1.4, curve: "monotone-x"}),
    Plot.ruleY(insetRows, {y: "q", x1: d => d.g - d.ex, x2: d => d.g + d.ex, stroke: "#111", strokeWidth: 1.2}),
    Plot.dot(insetRows, {x: d => d.g - d.ex, y: "q", symbol: vcap, stroke: "#111", fill: "none", strokeWidth: 1.1}),
    Plot.dot(insetRows, {x: d => d.g + d.ex, y: "q", symbol: vcap, stroke: "#111", fill: "none", strokeWidth: 1.1}),
    Plot.ruleX(insetRows.filter(d => d.ey > 0), {x: "g", y1: d => d.q - d.ey, y2: d => d.q + d.ey, stroke: "#111", strokeWidth: 1.2}),
    Plot.dot(insetRows, {x: "g", y: "q", r: 3.3, fill: "#111", stroke: null}),
    Plot.frame({stroke: "#222", strokeWidth: 1.1}),
    Plot.dot(insetYTicks, {y: d => d, frameAnchor: "left", symbol: tick(5, 0), ...TS}),
    Plot.dot(insetYMinor, {y: d => d, frameAnchor: "left", symbol: tick(3, 0), ...TS}),
    Plot.dot(insetYTicks, {y: d => d, frameAnchor: "right", symbol: tick(-5, 0), ...TS}),
    Plot.dot(insetYMinor, {y: d => d, frameAnchor: "right", symbol: tick(-3, 0), ...TS}),
    Plot.dot(insetXTicks, {x: d => d, frameAnchor: "bottom", symbol: tick(0, -5), ...TS}),
    Plot.dot(insetXTicks, {x: d => d, frameAnchor: "top", symbol: tick(0, 5), ...TS}),
    Plot.axisX({ticks: insetXTicks, tickSize: 0, tickPadding: 5, tickFormat: d => ixLab.get(d), label: null, fontSize: 13}),
    Plot.axisY({ticks: insetYTicks, tickSize: 0, tickPadding: 4, tickFormat: d => iyLab.get(d), label: null, fontSize: 13})
  ]
});
inset.style.left = "100px"; inset.style.top = "49px";
document.getElementById("wrap").appendChild(inset);
const box = document.createElement("div"); box.id = "insetBox";
document.getElementById("wrap").appendChild(box);

// rich text helper (super/subscripts)
function rich(svg, x, y, parts, fs, opts = {}) {
  const t = d3.select(svg).append("text")
    .attr("x", x).attr("y", y)
    .attr("font-family", FONT).attr("font-size", fs)
    .attr("fill", opts.fill || INK)
    .attr("text-anchor", opts.anchor || "start");
  if (opts.transform) t.attr("transform", opts.transform);
  if (opts.weight) t.attr("font-weight", opts.weight);
  let shift = 0;
  for (const [str, kind] of parts) {
    const target = kind === "sup" ? -0.42 * fs : kind === "sub" ? 0.3 * fs : 0;
    const sp = t.append("tspan").text(str).attr("dy", target - shift);
    if (kind) sp.attr("font-size", fs * 0.66);
    shift = target;
  }
  return t;
}

const X = main.scale("x"), Y = main.scale("y");
// axis titles
rich(main, 378, 543, [["gradient"]], 16, {anchor: "middle"});
rich(main, 0, 0, [["sediment flux, q"], ["s", "sub"], [" (m"], ["3", "sup"], [" m"], ["-1", "sup"], [" yr"], ["-1", "sup"], [")"]], 16.5,
  {anchor: "middle", transform: "translate(42,272) rotate(-90)"});
// panel label & annotations
rich(main, 378, 74, [["A)"]], 17.5, {weight: "bold"});
rich(main, X.apply(0.156), Y.apply(3.40), [["K=0.0045 m"], ["3", "sup"], [" m"], ["-1", "sup"], [" yr"], ["-1", "sup"]], 14.5);
rich(main, X.apply(0.156), Y.apply(2.86), [["S"], ["c", "sub"], ["=1.0"]], 14.5);
rich(main, X.apply(0.913), Y.apply(1.49), [["K=0.0015 m"], ["3", "sup"], [" m"], ["-1", "sup"], [" yr"], ["-1", "sup"]], 14.5);
rich(main, X.apply(0.913), Y.apply(0.97), [["S"], ["c", "sub"], ["=1.4"]], 14.5);

const IX = inset.scale("x"), IY = inset.scale("y");
rich(inset, 7, 24, [["B)"]], 17.5, {weight: "bold"});
rich(inset, 146, 223, [["gradient"]], 13.5, {anchor: "middle"});
rich(inset, 0, 0, [["q"], ["s", "sub"], [" (gm cm"], ["-1", "sup"], [" s"], ["-1", "sup"], [")"]], 13,
  {anchor: "middle", transform: "translate(29,108) rotate(-90)"});
rich(inset, IX.apply(0.091), IY.apply(2.47), [["K=0.77 g"], ["3", "sup"], ["cm"], ["-1", "sup"], ["s"], ["-1", "sup"]], 13.5);
rich(inset, IX.apply(0.091), IY.apply(2.21), [["S"], ["c", "sub"], ["=0.56"]], 13.5);
</script></body></html>
